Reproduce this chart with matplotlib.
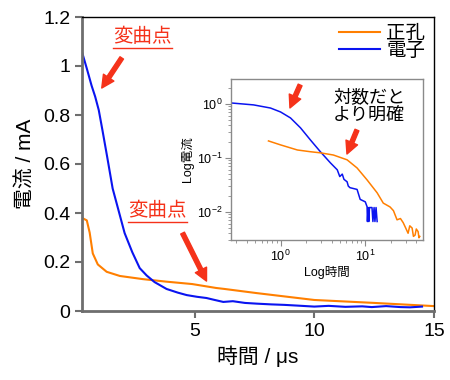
import matplotlib
matplotlib.use("Agg")
import matplotlib.pyplot as plt
from matplotlib.lines import Line2D

plt.rcParams['font.family'] = ['Liberation Sans', 'Noto Sans CJK JP', 'DejaVu Sans']
plt.rcParams['mathtext.fontset'] = 'custom'
plt.rcParams['mathtext.rm'] = 'Liberation Sans'

# main (linear) data: time in us, current in mA
t_e = [0.3, 0.5, 0.7, 0.85, 1.0, 1.15, 1.35, 1.58, 1.8, 2.08, 2.4, 2.71, 3.0, 3.33, 3.83,
       4.3, 4.67, 5.1, 5.5, 5.8, 6.2, 6.6, 7.1, 7.6, 8.2, 8.75, 9.3, 10, 10.6, 11.3,
       12.0, 12.4, 13.0, 13.6, 14.0, 14.5]
i_e = [1.057, 0.99, 0.92, 0.875, 0.82, 0.74, 0.63, 0.5, 0.42, 0.318, 0.24, 0.175, 0.145,
       0.118, 0.09, 0.075, 0.065, 0.058, 0.053, 0.046, 0.037, 0.04, 0.033, 0.03, 0.027,
       0.025, 0.022, 0.018, 0.021, 0.017, 0.019, 0.016, 0.02, 0.016, 0.015, 0.018]

t_h = [0.3, 0.5, 0.62, 0.75, 0.96, 1.33, 1.88, 2.85, 3.8, 4.9, 5.9, 6.25, 7.6, 10,
       12.5, 15]
i_h = [0.38, 0.37, 0.32, 0.235, 0.19, 0.16, 0.143, 0.13, 0.12, 0.11, 0.094, 0.09,
       0.073, 0.045, 0.033, 0.02]

# inset (log-log) data
lt_e = [0.265, 0.48, 0.76, 1.0, 1.31, 1.72, 2.25, 2.95, 3.87, 4.67, 5.0, 5.35, 5.6,
        6.1, 6.3, 6.6, 8.0, 8.7, 10.0, 10.5, 10.6, 10.8, 11.0, 11.2, 11.5, 12.0,
        12.3, 12.7, 13.0, 13.4, 13.8]
li_e = [1.04, 0.96, 0.84, 0.71, 0.55, 0.36, 0.215, 0.13, 0.081, 0.06, 0.045, 0.05,
        0.04, 0.036, 0.03, 0.028, 0.026, 0.017, 0.0153, 0.0124, 0.0066, 0.012, 0.0066,
        0.012, 0.012, 0.012, 0.0066, 0.012, 0.0066, 0.012, 0.0066]

lt_h = [0.72, 1.0, 1.58, 2.25, 2.95, 4.2, 6.1, 8.0, 10.5, 13.8, 16.3, 19.6, 21.5,
        23.7, 26, 28, 30, 32, 33.5, 35.7, 37, 38.7, 40, 42, 43, 44]
li_h = [0.206, 0.174, 0.14, 0.13, 0.124, 0.113, 0.092, 0.065, 0.039, 0.0225, 0.0145,
        0.0123, 0.0105, 0.0071, 0.0075, 0.0063, 0.005, 0.004, 0.0055, 0.005, 0.0035,
        0.0037, 0.0048, 0.0043, 0.0033, 0.0035]

orange = '#ff7f00'
blue = '#0a14f0'
red = '#f5321a'
gray = '#6e6e6e'

fig = plt.figure(figsize=(4.5, 3.8), dpi=100)
ax = fig.add_axes([82/450, 1-311/380, (434-82)/450, (311-17)/380])

ax.plot(t_h, i_h, color=orange, lw=1.5, label='正孔')
ax.plot(t_e, i_e, color=blue, lw=1.5, label='電子')

ax.set_xlim(0.3, 15)
ax.set_ylim(0, 1.2)
ax.set_xticks([5, 10, 15])
ax.set_yticks([0, 0.2, 0.4, 0.6, 0.8, 1.0, 1.2])
ax.set_yticklabels(['0', '0.2', '0.4', '0.6', '0.8', '1', '1.2'])
ax.tick_params(labelsize=14, length=5, width=1.5, color=gray, direction='out')
for s in ['left', 'bottom']:
    ax.spines[s].set_color(gray)
    ax.spines[s].set_linewidth(2)
for s in ['top', 'right']:
    ax.spines[s].set_color('black')
    ax.spines[s].set_linewidth(1)
ax.set_xlabel('時間 / μs', fontsize=15, labelpad=4)
ax.set_ylabel('電流 / mA', fontsize=15, labelpad=6)

ax.legend(loc='upper right', bbox_to_anchor=(425/450, 1-25/380), bbox_transform=fig.transFigure,
          frameon=False, fontsize=14, labelspacing=0.0, handlelength=2.1,
          handletextpad=0.3, borderpad=0, borderaxespad=0)

arrow = dict(arrowstyle='simple,head_width=0.9,head_length=0.9,tail_width=0.3',
             color=red, shrinkA=0, shrinkB=0)
t1 = ax.text(2.83, 1.118, '変曲点', color=red, fontsize=14, ha='center', va='center')
ax.annotate('', xy=(1.125, 0.91), xytext=(1.96, 1.033), arrowprops=arrow)
t2 = ax.text(3.46, 0.408, '変曲点', color=red, fontsize=14, ha='center', va='center')
ax.annotate('', xy=(5.5, 0.122), xytext=(4.5, 0.318), arrowprops=arrow)

# inset
ins = fig.add_axes([231/450, 1-240/380, (423-231)/450, (240-79)/380])
ins.plot(lt_e, li_e, color=blue, lw=1.1)
ins.plot(lt_h, li_h, color=orange, lw=1.1)
ins.set_xscale('log')
ins.set_yscale('log')
ins.set_xlim(0.26, 48)
ins.set_ylim(0.003, 2.9)
for s in ins.spines.values():
    s.set_color('#8a8a8a')
    s.set_linewidth(1)
ins.tick_params(which='both', labelsize=9, color='#8a8a8a', direction='out', pad=2)
ins.tick_params(which='major', length=4)
ins.tick_params(which='minor', length=2.5)
ins.set_xlabel('Log時間', fontsize=9, labelpad=2)
ins.set_ylabel('Log電流', fontsize=9, labelpad=2)
ins.text(0.72, 0.83, '対数だと\nより明確', transform=ins.transAxes, fontsize=13,
         ha='center', va='center', linespacing=1.1)
ins.annotate('', xy=(0.307, 0.82), xytext=(0.36, 0.963), xycoords='axes fraction',
             textcoords='axes fraction', arrowprops=arrow)
ins.annotate('', xy=(0.604, 0.534), xytext=(0.656, 0.683), xycoords='axes fraction',
             textcoords='axes fraction', arrowprops=arrow)

# underline the red labels
fig.canvas.draw()
for t in (t1, t2):
    bb = t.get_window_extent()
    y = (bb.y0 - 2) / fig.bbox.height
    fig.add_artist(Line2D([bb.x0 / fig.bbox.width, bb.x1 / fig.bbox.width], [y, y],
                          transform=fig.transFigure, color=red, lw=1))

fig.savefig('out.png', dpi=100)
